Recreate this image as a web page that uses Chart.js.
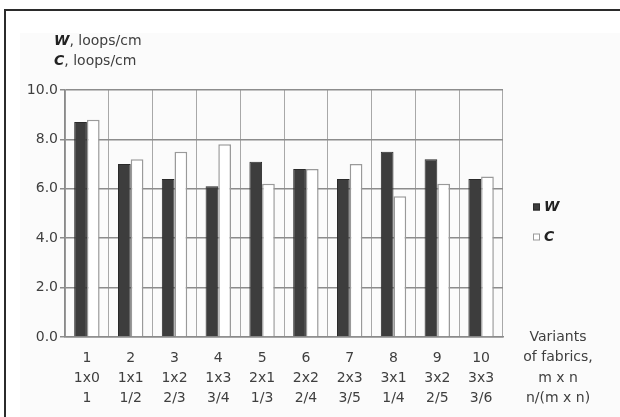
<!DOCTYPE html>
<html>
<head>
<meta charset="utf-8">
<script src="https://cdn.jsdelivr.net/npm/chart.js@4.4.1/dist/chart.umd.min.js"></script>
<style>
  html, body { margin: 0; padding: 0; background: #ffffff; }
  #wrap { position: relative; width: 620px; height: 417px; }
  canvas { display: block; }
</style>
</head>
<body>
<div id="wrap"><canvas id="chart" width="620" height="417"></canvas></div>
<script>
// Fabric variants: number, m x n repeat, n/(m x n) ratio
const variantNumbers = ['1', '2', '3', '4', '5', '6', '7', '8', '9', '10'];
const repeats = ['1x0', '1x1', '1x2', '1x3', '2x1', '2x2', '2x3', '3x1', '3x2', '3x3'];
const ratios = ['1', '1/2', '2/3', '3/4', '1/3', '2/4', '3/5', '1/4', '2/5', '3/6'];

// Loop density, loops/cm
const wValues = [8.7, 7.0, 6.4, 6.1, 7.1, 6.8, 6.4, 7.5, 7.2, 6.4];
const cValues = [8.8, 7.2, 7.5, 7.8, 6.2, 6.8, 7.0, 5.7, 6.2, 6.5];

const yTicks = [0, 2, 4, 6, 8, 10];

const labels = variantNumbers.map((n, i) => [n, repeats[i], ratios[i]]);

const TEXT = '#3f3f3f';
const FONT = '"DejaVu Sans", Verdana, sans-serif';
const SIZE = 14;

// Frame, axis caption, legend and x-axis caption drawn around the plot
const decorations = {
  id: 'decorations',
  beforeDraw(chart) {
    const ctx = chart.ctx;
    ctx.save();
    ctx.fillStyle = '#fbfbfb';
    ctx.fillRect(20, 33, 600, 384);
    ctx.restore();
  },
  afterDraw(chart) {
    const ctx = chart.ctx;
    ctx.save();
    // outer frame
    ctx.strokeStyle = '#2b2b2b';
    ctx.lineWidth = 2;
    ctx.beginPath();
    ctx.moveTo(5, 417);
    ctx.lineTo(5, 10);
    ctx.lineTo(620, 10);
    ctx.stroke();

    ctx.textBaseline = 'middle';
    // y-axis caption
    const cap = (letter, y) => {
      ctx.font = 'bold italic ' + SIZE + 'px ' + FONT;
      ctx.fillStyle = '#222';
      ctx.textAlign = 'left';
      ctx.fillText(letter, 54, y);
      const w = ctx.measureText(letter).width;
      ctx.font = SIZE + 'px ' + FONT;
      ctx.fillStyle = TEXT;
      ctx.fillText(', loops/cm', 54 + w, y);
    };
    cap('W', 41);
    cap('C', 61);

    // legend
    const ds = chart.data.datasets;
    const legendY = [207, 237];
    ds.forEach((d, i) => {
      const y = legendY[i];
      ctx.fillStyle = d.backgroundColor;
      ctx.fillRect(533, y - 3.5, 7, 7);
      ctx.strokeStyle = d.borderColor;
      ctx.lineWidth = 1;
      ctx.strokeRect(533.5, y - 3, 6, 6);
      ctx.font = 'bold italic ' + SIZE + 'px ' + FONT;
      ctx.fillStyle = '#222';
      ctx.textAlign = 'left';
      ctx.fillText(d.label, 544, y);
    });

    // x-axis caption
    ctx.font = SIZE + 'px ' + FONT;
    ctx.fillStyle = TEXT;
    ctx.textAlign = 'center';
    ['Variants', 'of fabrics,', 'm x n', 'n/(m x n)'].forEach((t, i) => {
      ctx.fillText(t, 558, 337 + i * 20.5);
    });
    ctx.restore();
  }
};

new Chart(document.getElementById('chart'), {
  type: 'bar',
  data: {
    labels: labels,
    datasets: [
      {
        label: 'W',
        data: wValues,
        backgroundColor: '#3d3d3d',
        borderColor: '#2a2a2a',
        borderWidth: 1
      },
      {
        label: 'C',
        data: cValues,
        backgroundColor: '#ffffff',
        borderColor: '#9a9a9a',
        borderWidth: 1.5
      }
    ]
  },
  options: {
    responsive: false,
    animation: false,
    layout: { padding: { top: 90, right: 117, left: 0, bottom: 0 } },
    datasets: { bar: { categoryPercentage: 0.58, barPercentage: 1.0 } },
    plugins: {
      legend: { display: false },
      tooltip: { enabled: false }
    },
    scales: {
      x: {
        grid: {
          offset: true,
          color: '#a8a8a8',
          lineWidth: 1,
          tickLength: 0,
          drawTicks: false
        },
        border: { color: '#8a8a8a', width: 1.5 },
        ticks: {
          color: TEXT,
          font: { family: FONT, size: SIZE, lineHeight: 20 / SIZE },
          padding: 11,
          maxRotation: 0,
          autoSkip: false
        },
        afterFit(scale) { scale.height = 80; }
      },
      y: {
        min: 0,
        max: 10,
        afterBuildTicks(scale) { scale.ticks = yTicks.map(v => ({ value: v })); },
        grid: {
          color: '#8c8c8c',
          lineWidth: 1.5,
          tickLength: 5
        },
        border: { color: '#8a8a8a', width: 1.5 },
        ticks: {
          color: TEXT,
          font: { family: FONT, size: SIZE },
          padding: 2,
          callback: v => Number(v).toFixed(1)
        },
        afterFit(scale) { scale.width = 65; }
      }
    }
  },
  plugins: [decorations]
});
</script>
</body>
</html>
